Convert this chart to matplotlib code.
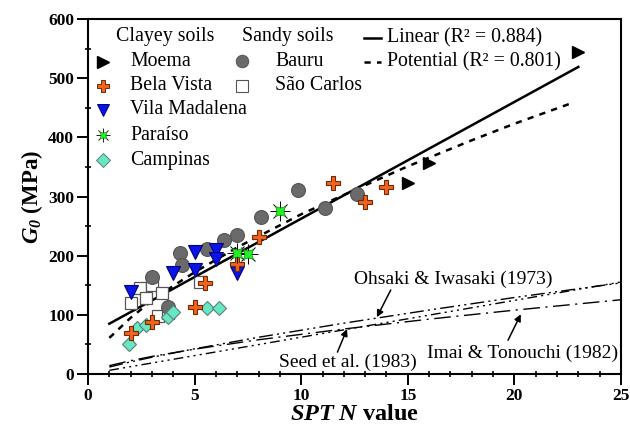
import matplotlib
matplotlib.use("Agg")
import matplotlib.pyplot as plt
from matplotlib.ticker import MultipleLocator

# ---------------- data ----------------
moema_n = [15.0, 16.0, 23.0]
moema_g = [322, 357, 545]

bela_n = [2.0, 3.0, 5.0, 5.5, 7.0, 8.0, 11.5, 13.0, 14.0]
bela_g = [69, 88, 113, 153, 186, 232, 323, 291, 316]

vila_n = [2.0, 4.0, 5.0, 5.0, 6.0, 6.0, 7.0]
vila_g = [138, 171, 206, 175, 210, 195, 171]

paraiso_n = [7.0, 7.5, 9.0]
paraiso_g = [204, 203, 275]

campinas_n = [1.9, 2.3, 2.7, 3.75, 4.0, 5.6, 6.15]
campinas_g = [51, 78, 82, 97, 105, 111, 111]

bauru_n = [3.0, 3.75, 4.3, 4.4, 5.6, 6.4, 7.0, 8.1, 9.85, 11.1, 12.6]
bauru_g = [164, 113, 204, 184, 211, 226, 235, 266, 311, 281, 304]

saocarlos_n = [2.0, 2.45, 2.7, 3.0, 3.45, 3.3, 3.75, 5.25]
saocarlos_g = [120, 146, 128, 150, 137, 98, 103, 155]

# fitted curves
linear_n = [1.0, 23.0]
linear_g = [85, 519]
potential_n = [1, 2, 3, 4, 5, 7, 10, 13, 15, 18, 20, 22.7]
potential_g = [61, 95, 124, 149, 172, 214, 270, 319, 351, 395, 423, 458]

# published correlations
ohsaki_n = [1, 2, 3, 5, 8, 12, 16, 20, 25]
ohsaki_g = [11.8, 20.5, 28.3, 42.6, 62.1, 85.9, 108.1, 129.3, 154.0]
imai_n = [1, 2, 3, 5, 8, 12, 16, 20, 25]
imai_g = [14.1, 22.5, 29.7, 42.0, 57.9, 76.1, 92.7, 107.9, 125.5]
seed_n = [1, 25]
seed_g = [6.2, 155.5]

# ---------------- figure ----------------
plt.rcParams['font.family'] = ['Liberation Serif', 'DejaVu Serif']
plt.rcParams['mathtext.fontset'] = 'custom'
plt.rcParams['mathtext.rm'] = 'Liberation Serif'
plt.rcParams['mathtext.it'] = 'Liberation Serif:italic'
plt.rcParams['mathtext.bf'] = 'Liberation Serif:bold'
plt.rcParams['mathtext.bfit'] = 'Liberation Serif:bold:italic'

fig = plt.figure(figsize=(6.3, 4.34), dpi=100)
ax = fig.add_axes([88/630, 1-374/434, (621-88)/630, (374-19)/434])

ax.set_xlim(0, 25)
ax.set_ylim(0, 600)

# correlation lines
ax.plot(ohsaki_n, ohsaki_g, color='black', lw=1.0, ls=(0, (10, 3, 1.5, 3, 1.5, 3)))
ax.plot(imai_n, imai_g, color='black', lw=1.0, ls=(0, (12, 4, 1.5, 4)))
ax.plot(seed_n, seed_g, color='black', lw=1.0, ls=(0, (7, 3, 1.5, 3, 1.5, 3, 1.5, 3)))

# fits
ax.plot(linear_n, linear_g, color='black', lw=1.8, zorder=3)
ax.plot(potential_n, potential_g, color='black', lw=1.8, ls=(0, (2.5, 2.5)), zorder=3)

ms = 9
ax.plot(saocarlos_n, saocarlos_g, ls='none', marker='s', ms=ms, mfc='white', mec='#555555', mew=0.9, zorder=4)
ax.plot(bauru_n, bauru_g, ls='none', marker='o', ms=ms+1, mfc='#6a6a6a', mec='#555555', mew=0.8, zorder=4)
ax.plot(campinas_n, campinas_g, ls='none', marker='D', ms=ms-1.5, mfc='#66e8c4', mec='#5a7f74', mew=0.8, zorder=5)
ax.plot(vila_n, vila_g, ls='none', marker='v', ms=ms+1, mfc='#0a14e6', mec='#00007a', mew=0.8, zorder=5)
ax.plot(bela_n, bela_g, ls='none', marker='P', ms=ms+1, mfc='#f2641a', mec='#6b2a05', mew=0.8, zorder=6)
ax.plot(paraiso_n, paraiso_g, ls='none', marker='+', ms=ms+5, mec='black', mew=0.7, zorder=6)
ax.plot(paraiso_n, paraiso_g, ls='none', marker='x', ms=ms+1, mec='black', mew=0.7, zorder=6)
ax.plot(paraiso_n, paraiso_g, ls='none', marker=(4, 1, 45), ms=ms+1, mfc='#22f022', mec='#118811', mew=0.5, zorder=7)
ax.plot(moema_n, moema_g, ls='none', marker='>', ms=ms, mfc='black', mec='black', zorder=6)

# ---------------- custom legend ----------------
fs = 14.3
tr = fig.transFigure
def ftext(px, py, s, **kw):
    fig.text(px/630, 1-py/434, s, fontsize=fs, va='center', ha='left', **kw)

def fmark(px, py, **kw):
    fig.lines.append(matplotlib.lines.Line2D([px/630], [1-py/434], transform=tr, ls='none', **kw))

ftext(116, 36, 'Clayey soils')
ftext(242, 36, 'Sandy soils')
rows = [62, 86, 110, 135, 160]
labels = ['Moema', 'Bela Vista', 'Vila Madalena', 'Paraíso', 'Campinas']
for y, lab in zip(rows, labels):
    ftext(130, y, lab)
fmark(103, rows[0], marker='>', ms=8, mfc='black', mec='black')
fmark(103, rows[1], marker='P', ms=8, mfc='#f2641a', mec='#6b2a05', mew=0.7)
fmark(103, rows[2], marker='v', ms=8, mfc='#0a14e6', mec='#00007a', mew=0.7)
fmark(103, rows[3], marker='+', ms=10, mec='black', mew=0.6)
fmark(103, rows[3], marker='x', ms=7, mec='black', mew=0.6)
fmark(103, rows[3], marker=(4, 1, 45), ms=7, mfc='#22f022', mec='#118811', mew=0.4)
fmark(103, rows[4], marker='D', ms=7, mfc='#66e8c4', mec='#5a7f74', mew=0.7)

ftext(275, 61, 'Bauru')
ftext(275, 86, 'São Carlos')
fmark(242, 61, marker='o', ms=9, mfc='#6a6a6a', mec='#555555', mew=0.7)
fmark(242, 86, marker='s', ms=8, mfc='white', mec='#555555', mew=0.8)

fig.lines.append(matplotlib.lines.Line2D([364/630, 381/630], [1-38/434, 1-38/434], transform=tr, color='black', lw=1.8))
fig.lines.append(matplotlib.lines.Line2D([364/630, 381/630], [1-62/434, 1-62/434], transform=tr, color='black', lw=1.8, ls=(0, (2.5, 2.5))))
ftext(387, 38, 'Linear (R² = 0.884)')
ftext(387, 62, 'Potential (R² = 0.801)')

# ---------------- annotations ----------------
afs = 14
ax.text(12.5, 160, 'Ohsaki & Iwasaki (1973)', fontsize=afs, ha='left', va='center')
ax.text(15.9, 35, 'Imai & Tonouchi (1982)', fontsize=afs, ha='left', va='center')
ax.text(8.96, 20, 'Seed et al. (1983)', fontsize=afs, ha='left', va='center')
arrow_kw = dict(arrowstyle='-|>', color='black', lw=1.1, shrinkA=0, shrinkB=0, mutation_scale=10)
ax.annotate('', xy=(13.55, 96), xytext=(14.2, 142), arrowprops=arrow_kw)
ax.annotate('', xy=(20.3, 101), xytext=(19.7, 57), arrowprops=arrow_kw)
ax.annotate('', xy=(12.15, 76), xytext=(11.7, 37), arrowprops=arrow_kw)

# ---------------- axes styling ----------------
for sp in ax.spines.values():
    sp.set_linewidth(1.5)
ax.xaxis.set_major_locator(MultipleLocator(5))
ax.xaxis.set_minor_locator(MultipleLocator(1))
ax.yaxis.set_major_locator(MultipleLocator(100))
ax.yaxis.set_minor_locator(MultipleLocator(50))
ax.tick_params(which='major', direction='out', length=8, width=1.4, labelsize=12.5, pad=2)
ax.tick_params(which='minor', direction='inout', length=5, width=1.2)
for lab in ax.get_xticklabels() + ax.get_yticklabels():
    lab.set_fontweight('bold')

ax.set_xlabel(r'$\mathbfit{SPT\ N}$ value', fontsize=17.5, fontweight='bold', labelpad=0)
ax.set_ylabel(r'$\mathbfit{G_0}$ (MPa)', fontsize=16.5, fontweight='bold', labelpad=2)

fig.savefig('out.png', dpi=100)
